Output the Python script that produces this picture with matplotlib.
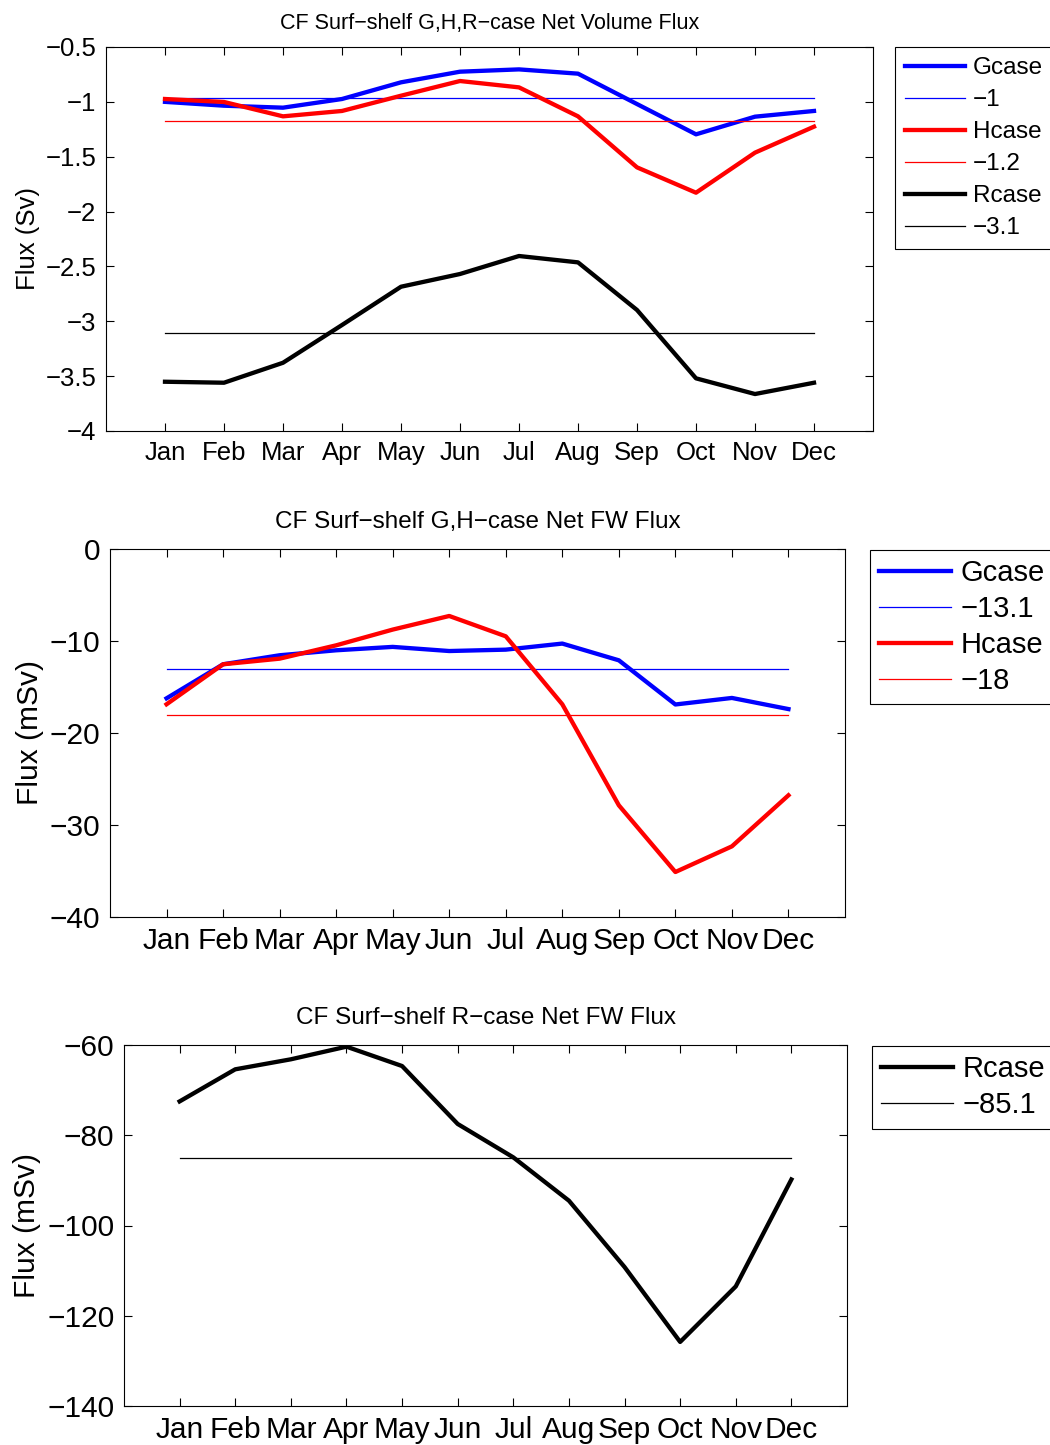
import numpy as np
import matplotlib
matplotlib.use("Agg")
import matplotlib.pyplot as plt

plt.rcParams['font.family'] = ['Liberation Sans', 'DejaVu Sans']

months = ['Jan', 'Feb', 'Mar', 'Apr', 'May', 'Jun',
          'Jul', 'Aug', 'Sep', 'Oct', 'Nov', 'Dec']

# net volume flux (Sv)
vol_g = [-1.00, -1.035, -1.053, -0.974, -0.822, -0.725,
         -0.704, -0.743, -1.02, -1.296, -1.135, -1.083]
vol_h = [-0.974, -1.001, -1.132, -1.083, -0.944, -0.81,
         -0.868, -1.132, -1.597, -1.828, -1.463, -1.226]
vol_r = [-3.551, -3.56, -3.378, -3.034, -2.685, -2.569,
         -2.405, -2.463, -2.897, -3.52, -3.663, -3.56]

# net freshwater flux (mSv)
fw_g = [-16.23, -12.53, -11.55, -11.01, -10.64, -11.09,
        -10.94, -10.28, -12.10, -16.9, -16.19, -17.4]
fw_h = [-16.88, -12.53, -11.92, -10.47, -8.76, -7.28,
        -9.49, -16.88, -27.86, -35.11, -32.32, -26.77]
fw_r = [-72.5, -65.39, -63.17, -60.37, -64.66, -77.5,
        -84.9, -94.5, -109.2, -125.8, -113.5, -89.8]

vol_ticks = [-4, -3.5, -3, -2.5, -2, -1.5, -1, -0.5]
fwgh_ticks = [-40, -30, -20, -10, 0]
fwr_ticks = [-140, -120, -100, -80, -60]


def fmt(v):
    return f"{v:g}".replace('-', '\u2212')


def panel(ax, series, ylim, yticks, title, ylabel, fs_tick, fs_title, fs_lab,
          tpad, lpad):
    x = np.arange(1, 13)
    for vals, col, name in series:
        vals = np.array(vals)
        m = vals.mean()
        ax.plot(x, vals, color=col, lw=3.1, label=name)
        ax.plot([1, 12], [m, m], color=col, lw=0.9, label=fmt(round(m, 1)))
    ax.set_xlim(0, 13)
    ax.set_ylim(*ylim)
    ax.set_xticks(x)
    ax.set_xticklabels(months)
    ax.set_yticks(yticks)
    ax.set_yticklabels([fmt(t) for t in yticks])
    ax.tick_params(direction='in', top=True, right=True, length=6,
                   width=0.8, labelsize=fs_tick, pad=7)
    for s in ax.spines.values():
        s.set_linewidth(0.8)
    ax.set_title(title, fontsize=fs_title, pad=tpad)
    ax.set_ylabel(ylabel, fontsize=fs_lab, labelpad=lpad)


def add_legend(ax, left, top, fs, spacing, bpad):
    leg = ax.legend(loc='upper left', bbox_to_anchor=(left / W, 1 - top / H),
                    bbox_transform=fig.transFigure, fontsize=fs, frameon=True,
                    fancybox=False, edgecolor='black', handlelength=2.45,
                    handletextpad=0.33, borderpad=bpad, labelspacing=spacing,
                    borderaxespad=0)
    leg.get_frame().set_linewidth(0.8)
    leg.get_frame().set_alpha(None)
    return leg


fig = plt.figure(figsize=(10.5, 14.45), dpi=100)
W, H = 1050.0, 1445.0


def axes_px(l, t, r, b):
    return fig.add_axes([l / W, 1 - b / H, (r - l) / W, (b - t) / H])


ax1 = axes_px(106, 47, 873, 431)
panel(ax1, [(vol_g, 'blue', 'Gcase'), (vol_h, 'red', 'Hcase'), (vol_r, 'black', 'Rcase')],
      (-4, -0.5), vol_ticks, 'CF Surf\u2212shelf G,H,R\u2212case Net Volume Flux',
      'Flux (Sv)', 18.5, 15.5, 18.5, 13, 4)
add_legend(ax1, 895, 47, 17.5, 0.41, 0.42)

ax2 = axes_px(110, 549, 845, 917)
panel(ax2, [(fw_g, 'blue', 'Gcase'), (fw_h, 'red', 'Hcase')],
      (-40, 0), fwgh_ticks, 'CF Surf\u2212shelf G,H\u2212case Net FW Flux',
      'Flux (mSv)', 21.5, 17.5, 21.5, 15, 4)
add_legend(ax2, 870, 550, 21, 0.27, 0.32)

ax3 = axes_px(124, 1045, 847, 1406)
panel(ax3, [(fw_r, 'black', 'Rcase')],
      (-140, -60), fwr_ticks, 'CF Surf\u2212shelf R\u2212case Net FW Flux',
      'Flux (mSv)', 21.5, 17.5, 21.5, 15, 4)
add_legend(ax3, 872, 1046, 21, 0.27, 0.32)

fig.savefig('out.png', dpi=100)
